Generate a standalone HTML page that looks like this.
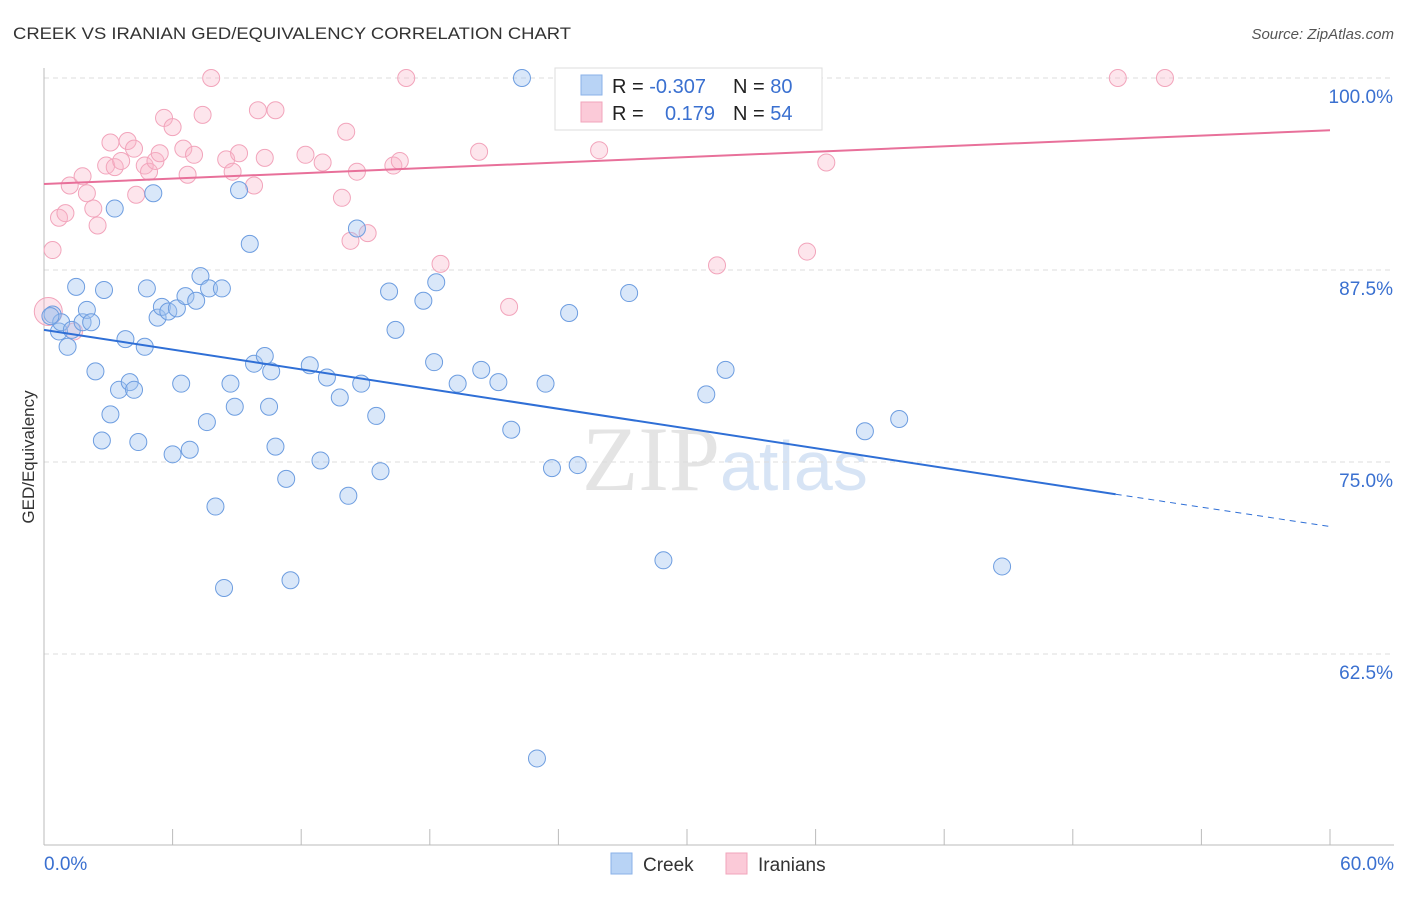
<!DOCTYPE html>
<html><head><meta charset="utf-8"><style>
body{margin:0;background:#fff;font-family:"Liberation Sans",sans-serif;}
</style></head><body>
<svg id="chart" width="1406" height="892" xmlns="http://www.w3.org/2000/svg" style="font-family:'Liberation Sans',sans-serif">
<text x="13" y="39" font-size="17" fill="#333" textLength="558" lengthAdjust="spacingAndGlyphs">CREEK VS IRANIAN GED/EQUIVALENCY CORRELATION CHART</text>
<text x="1394" y="39" font-size="15" fill="#555" font-style="italic" text-anchor="end">Source: ZipAtlas.com</text>
<text x="720" y="490" font-size="92" fill="#e4e4e4" text-anchor="end" font-family="Liberation Serif">ZIP</text>
<text x="720" y="490" font-size="70" fill="#d7e4f5">atlas</text>
<g id="grid"></g>
<g id="axes"></g>
<g id="marks"></g>
<text transform="translate(34,457) rotate(-90)" font-size="17" fill="#333" text-anchor="middle">GED/Equivalency</text>
<g>
<rect x="555" y="68" width="267" height="62" fill="#fff" stroke="#ddd"/>
<rect x="581" y="75" width="21" height="20" fill="#b8d3f5" stroke="#8ab2e8"/>
<rect x="581" y="102" width="21" height="20" fill="#fbcad8" stroke="#f2a4bb"/>
<text x="612" y="93" font-size="20" fill="#222">R = <tspan fill="#3a70d0">-0.307</tspan></text>
<text x="733" y="93" font-size="20" fill="#222">N = <tspan fill="#3a70d0">80</tspan></text>
<text x="612" y="120" font-size="20" fill="#222">R = </text>
<text x="715" y="120" font-size="20" fill="#3a70d0" text-anchor="end">0.179</text>
<text x="733" y="120" font-size="20" fill="#222">N = <tspan fill="#3a70d0">54</tspan></text>
</g>
<g>
<rect x="611" y="853" width="21" height="21" fill="#b8d3f5" stroke="#8ab2e8"/>
<text x="643" y="871" font-size="19" fill="#333">Creek</text>
<rect x="726" y="853" width="21" height="21" fill="#fbcad8" stroke="#f2a4bb"/>
<text x="758" y="871" font-size="19" fill="#333">Iranians</text>
</g>
</svg>
<script>
const blueX=[0.4,0.7,0.8,1.1,1.3,1.5,1.8,2.0,2.2,2.4,2.7,2.8,3.1,3.3,3.5,3.8,4.0,4.2,4.4,4.7,4.8,5.1,5.3,5.5,5.8,6.0,6.2,6.4,6.6,6.8,7.1,7.3,7.6,7.7,8.0,8.3,8.4,8.7,8.9,9.1,9.6,9.8,10.3,10.5,10.6,10.8,11.3,11.5,12.4,12.9,13.2,13.8,14.2,14.6,14.8,15.5,15.7,16.1,16.4,17.7,18.2,18.3,19.3,20.4,21.2,21.8,22.3,23.0,23.4,23.7,24.5,24.9,27.3,28.9,30.9,31.8,38.3,39.9,44.7,0.3];
const blueY=[84.6,83.5,84.1,82.5,83.6,86.4,84.1,84.9,84.1,80.9,76.4,86.2,78.1,91.5,79.7,83.0,80.2,79.7,76.3,82.5,86.3,92.5,84.4,85.1,84.8,75.5,85.0,80.1,85.8,75.8,85.5,87.1,77.6,86.3,72.1,86.3,66.8,80.1,78.6,92.7,89.2,81.4,81.9,78.6,80.9,76.0,73.9,67.3,81.3,75.1,80.5,79.2,72.8,90.2,80.1,78.0,74.4,86.1,83.6,85.5,81.5,86.7,80.1,81.0,80.2,77.1,100.0,55.7,80.1,74.6,84.7,74.8,86.0,68.6,79.4,81.0,77.0,77.8,68.2,84.5];
const pinkX=[0.2,0.4,0.7,1.0,1.2,1.8,2.0,2.3,2.5,2.9,3.1,3.3,3.6,3.9,4.2,4.3,4.7,4.9,5.2,5.4,5.6,6.0,6.5,6.7,7.0,7.4,7.8,8.5,8.8,9.1,9.8,9.98,10.3,10.8,12.2,13.0,13.9,14.1,14.3,14.6,15.1,16.3,16.6,16.9,18.5,20.3,21.7,25.9,31.4,35.6,36.5,50.1,52.3,1.4];
const pinkY=[84.8,88.8,90.9,91.2,93.0,93.6,92.5,91.5,90.4,94.3,95.8,94.2,94.6,95.9,95.4,92.4,94.3,93.9,94.6,95.1,97.4,96.8,95.4,93.7,95.0,97.6,100.0,94.7,93.9,95.1,93.0,97.9,94.8,97.9,95.0,94.5,92.2,96.5,89.4,93.9,89.9,94.3,94.6,100.0,87.9,95.2,85.1,95.3,87.8,88.7,94.5,100.0,100.0,83.5];
const yTicks=[100,87.5,75,62.5];
const yTickLabels=["100.0%","87.5%","75.0%","62.5%"];
const blueTrend=[83.6,72.9,70.8];const pinkTrend=[93.1,96.6];
const NS="http://www.w3.org/2000/svg";
const xs=v=>44+v/60*1286, ys=v=>78+(100-v)*15.36;
function mk(p,t,a){const e=document.createElementNS(NS,t);for(const k in a)e.setAttribute(k,a[k]);p.appendChild(e);return e;}
const grid=document.getElementById('grid'),axes=document.getElementById('axes'),marks=document.getElementById('marks');
yTicks.forEach((t,i)=>{
 const l=mk(grid,'line',{x1:44,x2:1394,y1:ys(t),y2:ys(t),stroke:'#ddd','stroke-dasharray':'5,4'});
 
 
 const tx=mk(axes,'text',{x:1393,y:ys(t)+25,'font-size':19,fill:'#3a70d0','text-anchor':'end'});tx.textContent=yTickLabels[i];
 
 
});
mk(axes,'line',{x1:44,x2:44,y1:68,y2:845,stroke:'#bbb'});
mk(axes,'line',{x1:44,x2:1394,y1:845,y2:845,stroke:'#bbb'});
for(let i=0;i<=10;i++){const x=44+i*128.6;mk(axes,'line',{x1:x,x2:x,y1:829,y2:845,stroke:'#bbb'});}
let t=mk(axes,'text',{x:44,y:870,'font-size':19,fill:'#3a70d0'});t.textContent='0.0%';


t=mk(axes,'text',{x:1394,y:870,'font-size':19,fill:'#3a70d0','text-anchor':'end'});t.textContent='60.0%';


pinkX.forEach((x,i)=>{const c=mk(marks,'circle',{cx:xs(x),cy:ys(pinkY[i]),r:i==0?14:8.5,fill:'rgba(248,180,200,0.35)',stroke:'#f2a4bb','stroke-width':1});
 
 });
blueX.forEach((x,i)=>{const c=mk(marks,'circle',{cx:xs(x),cy:ys(blueY[i]),r:8.5,fill:'rgba(160,195,240,0.4)',stroke:'#6d9de0','stroke-width':1});
 
 });
let l=mk(marks,'line',{x1:xs(0),y1:ys(blueTrend[0]),x2:xs(50),y2:ys(blueTrend[1]),stroke:'#2f6fd6','stroke-width':2});


l=mk(marks,'line',{x1:xs(50),y1:ys(blueTrend[1]),x2:xs(60),y2:ys(blueTrend[2]),stroke:'#2f6fd6','stroke-width':1,'stroke-dasharray':'6,5'});


l=mk(marks,'line',{x1:xs(0),y1:ys(pinkTrend[0]),x2:xs(60),y2:ys(pinkTrend[1]),stroke:'#e8709a','stroke-width':2});


</script>
</body></html>
